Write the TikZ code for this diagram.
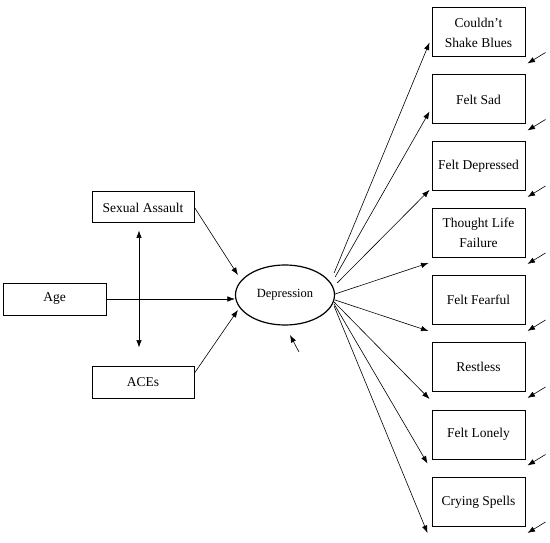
\documentclass[tikz,border=0pt]{standalone}
\usepackage{fontspec}
\setmainfont{Liberation Serif}
\usetikzlibrary{arrows.meta,shapes.geometric}

\begin{document}
\begin{tikzpicture}[x=1pt,y=-1pt,>={Latex[length=7.5pt,width=5.5pt]},
  item/.style={draw,line width=1pt,minimum width=93pt,minimum height=49pt,
    align=center,font=\fontsize{13.5}{20}\selectfont,inner sep=0pt},
  side/.style={draw,line width=1pt,minimum width=102pt,minimum height=31pt,
    font=\fontsize{13.5}{14}\selectfont,inner sep=0pt},
  link/.style={->,line width=0.6pt}]
\useasboundingbox (0,0) rectangle (550,543);
% latent factor
\node[draw,ellipse,line width=1.2pt,minimum width=99pt,minimum height=60pt,
  inner sep=0pt,font=\fontsize{12.5}{13}\selectfont] (dep) at (285,295) {Depression};
% predictors
\node[side] (sa) at (143,207.5) {Sexual Assault};
\node[side,minimum width=103pt,minimum height=32pt] (age) at (54.5,299) {Age};
\node[side,minimum height=32pt] (aces) at (143,382) {ACEs};
% indicators
\node[item] (b1) at (478.5,32.5) {Couldn’t\\Shake Blues};
\node[item] (b2) at (478.5,99.5) {Felt Sad};
\node[item] (b3) at (478.5,166) {Felt Depressed};
\node[item] (b4) at (478.5,233) {Thought Life\\Failure};
\node[item] (b5) at (478.5,300) {Felt Fearful};
\node[item] (b6) at (478.5,367) {Restless};
\node[item] (b7) at (478.5,434.5) {Felt Lonely};
\node[item] (b8) at (478.5,502) {Crying Spells};

\draw[link] (sa.east) -- ([shift={(3,-20)}]dep.west);
\draw[link] (age.east) -- (age.east -| dep.west);
\draw[link] ([shift={(0,-9)}]aces.east) -- ([shift={(3,15)}]dep.west);
\draw[<->,line width=0.6pt] ([shift={(-4,7)}]sa.south) -- ([shift={(-4,-18)}]aces.north);
\draw[link] ([shift={(14,57)}]dep.center) -- ([shift={(5,40)}]dep.center);

% loadings
\foreach \b/\s/\t in {b1/{(-1,-22)}/{(-2,-15)},b2/{(0,-18)}/{(-2,-13)},
    b3/{(2,-12)}/{(-2,-1)},b4/{(0,-1)}/{(-3,5)},b5/{(0,5)}/{(-3,6)},
    b6/{(-1,7)}/{(-2,7)},b7/{(-1,9)}/{(-4,4)},b8/{(-1,11)}/{(-4,6)}}
  \draw[link] ([shift=\s]dep.east) -- ([shift=\t]\b.south west);
% residuals
\foreach \b in {b1,b2,b3,b4,b5,b6,b7,b8}
  \draw[link] ([shift={(20,-5)}]\b.south east) -- ([shift={(2,6)}]\b.south east);
\end{tikzpicture}
\end{document}
